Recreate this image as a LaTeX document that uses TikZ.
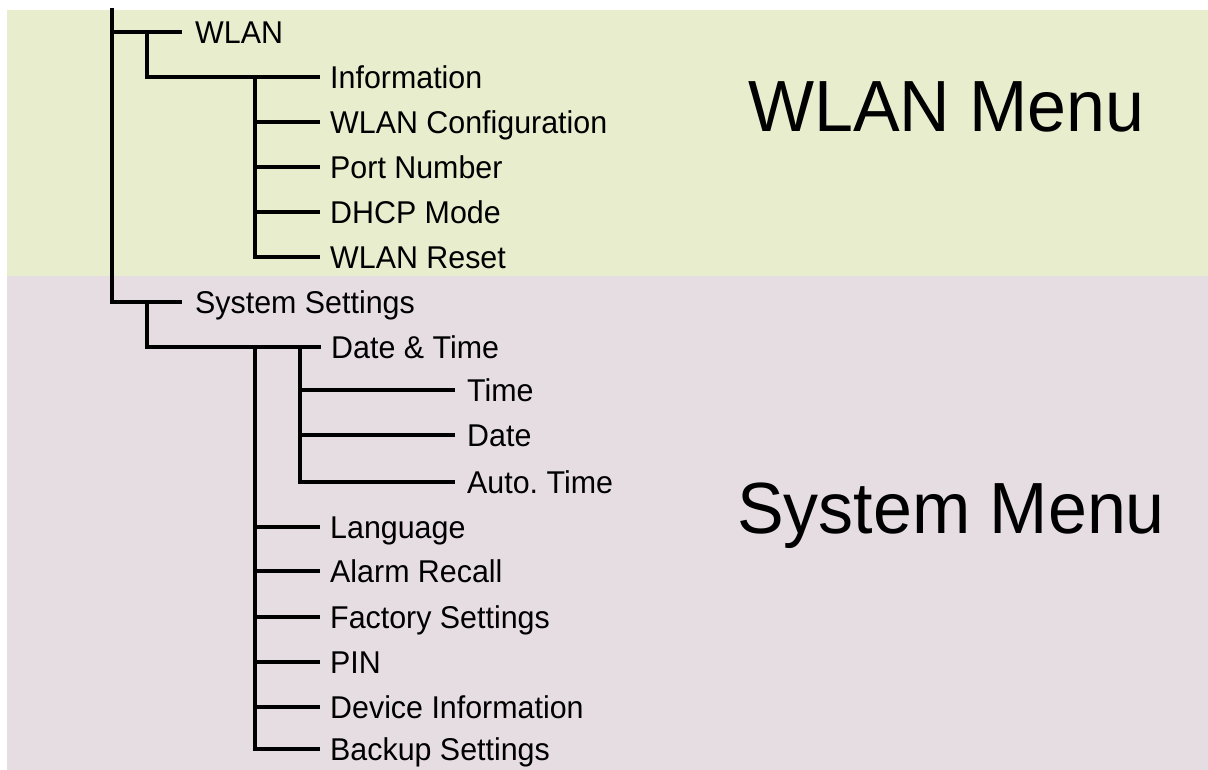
\documentclass[tikz,border=0pt]{standalone}
\usepackage{fontspec}
\setmainfont{Liberation Sans}[FakeStretch=0.965]
\definecolor{wlanbg}{RGB}{232,237,206}
\definecolor{sysbg}{RGB}{230,221,226}
\frenchspacing
\begin{document}
\begin{tikzpicture}[x=1pt,y=-1pt,
  tree/.style={line width=3.2pt, black},
  item/.style={anchor=west, inner xsep=10pt, inner ysep=0pt, text height=22.6pt, text depth=0pt,
               font=\fontsize{31.5}{36}\selectfont},
  topitem/.style={item, inner xsep=13pt},
  big/.style={anchor=base west, inner sep=0pt, font=\fontsize{72.5}{80}\selectfont}]
\useasboundingbox (0,0) rectangle (1208,770);
\fill[white] (0,0) rectangle (1208,770);
\fill[wlanbg] (7,10) rectangle (1208,276.5);
\fill[sysbg] (7,276.5) rectangle (1208,770);

% junction columns
\coordinate (top) at (112,8);
\coordinate (c1) at (147,0);
\coordinate (c2) at (255,0);
\coordinate (c3) at (300,0);

% WLAN subtree
\node[topitem] (wlan) at (182,32) {WLAN};
\node[item] (info) at (320,77) {Information};
\node[item] (wcfg) at (320,122) {WLAN Configuration};
\node[item] (port) at (320,167) {Port Number};
\node[item] (dhcp) at (320,212) {DHCP Mode};
\node[item] (wrst) at (320,257) {WLAN Reset};

% System subtree
\node[topitem] (sys) at (182,302) {System Settings};
\node[item] (dt) at (321,347) {Date \& Time};
\node[item, inner xsep=12pt] (time) at (455,390) {Time};
\node[item, inner xsep=12pt] (date) at (455,435) {Date};
\node[item, inner xsep=12pt] (auto) at (455,482) {Auto.\ Time};
\node[item] (lang) at (320,527) {Language};
\node[item] (alarm) at (320,571) {Alarm Recall};
\node[item] (fact) at (320,617) {Factory Settings};
\node[item] (pin) at (320,662) {PIN};
\node[item] (dev) at (320,707) {Device Information};
\node[item] (back) at (320,749) {Backup Settings};

% big titles
\node[big] (wtitle) at (748,132) {WLAN Menu};
\node[big] (stitle) at (737,533) {System Menu};

% connectors
\draw[tree] (top) |- (sys.west);
\draw[tree] (top |- wlan.west) -- (wlan.west);

\draw[tree] (c1 |- wlan.west) |- (info.west);
\draw[tree] (c2 |- info.west) |- (wrst.west);
\foreach \n in {wcfg,port,dhcp} \draw[tree] (c2 |- \n.west) -- (\n.west);

\draw[tree] (c1 |- sys.west) |- (dt.west);
\draw[tree] (c2 |- dt.west) |- (back.west);
\foreach \n in {lang,alarm,fact,pin,dev} \draw[tree] (c2 |- \n.west) -- (\n.west);
\draw[tree] (c3 |- dt.west) |- (auto.west);
\foreach \n in {time,date} \draw[tree] (c3 |- \n.west) -- (\n.west);
\end{tikzpicture}
\end{document}
